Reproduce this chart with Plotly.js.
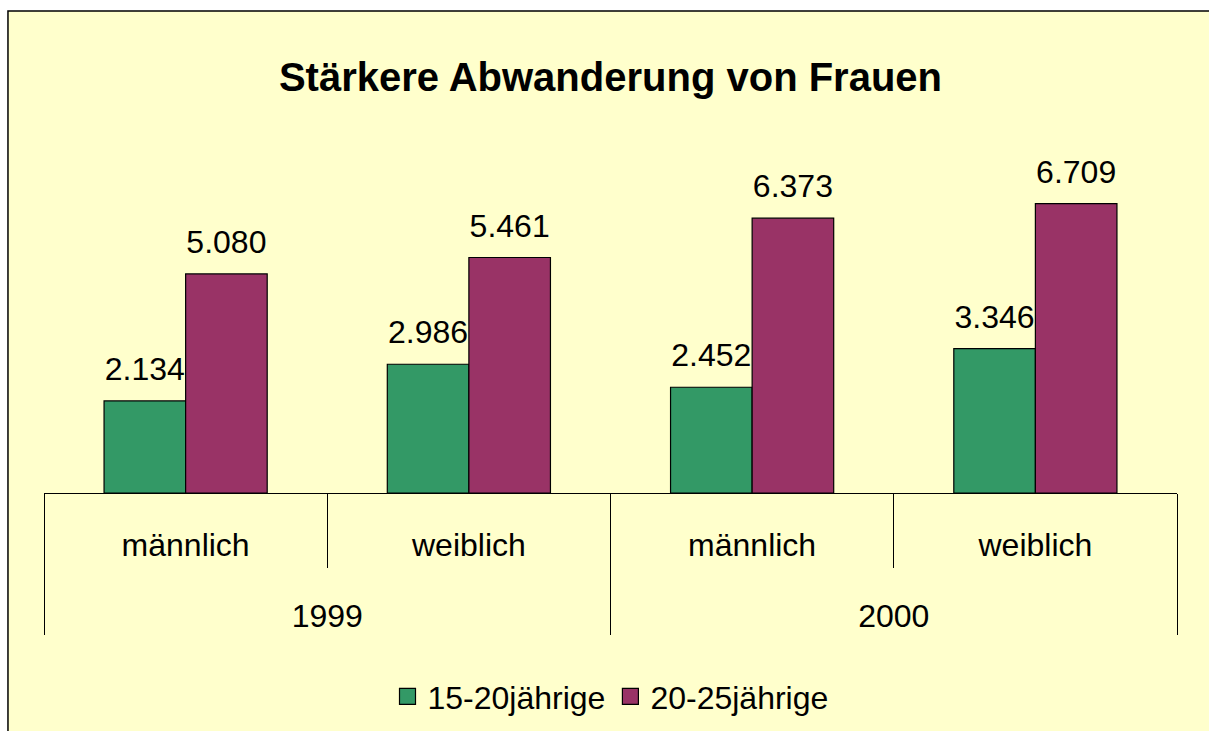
<!DOCTYPE html>
<html>
<head>
<meta charset="utf-8">
<script src="https://cdn.plot.ly/plotly-3.0.1.min.js"></script>
<style>html,body{margin:0;padding:0;background:#fff;}#chart{width:1209px;height:731px;}</style>
</head>
<body>
<div id="chart"></div>
<script>
const years = ['1999', '1999', '2000', '2000'];
const genders = ['männlich', 'weiblich', 'männlich', 'weiblich'];
const seriesNames = ['15-20jährige', '20-25jährige'];
const values1520 = [2134, 2986, 2452, 3346];
const values2025 = [5080, 5461, 6373, 6709];
const colors = ['#339966', '#993366'];

const FONT = 'Arial, "Liberation Sans", sans-serif';
const seriesValues = [values1520, values2025];

// invisible tall spacers around the inner labels give the second label row its distance
const SPACER = '<span style="font-size:83px">\u00A0</span>';
const innerLabels = genders.map(function (g) { return SPACER + g + SPACER; });
const xCats = [years, innerLabels];

const data = [];
// bars
seriesValues.forEach(function (vals, i) {
  data.push({
    type: 'bar',
    name: seriesNames[i],
    x: xCats,
    y: vals,
    offsetgroup: String(i),
    marker: {color: colors[i], line: {color: '#000000', width: 1.2}},
    showlegend: false,
    hoverinfo: 'skip'
  });
});
// value labels (grouped like the bars)
seriesValues.forEach(function (vals, i) {
  data.push({
    type: 'scatter',
    mode: 'markers+text',
    name: seriesNames[i],
    x: xCats,
    y: vals,
    offsetgroup: String(i),
    texttemplate: '%{y:,}',
    textposition: 'top center',
    textfont: {family: FONT, size: 32, color: '#000000'},
    marker: {size: 19, opacity: 0, color: colors[i]},
    cliponaxis: false,
    showlegend: false,
    hoverinfo: 'skip'
  });
});
// legend entries
seriesValues.forEach(function (vals, i) {
  data.push({
    type: 'scatter',
    mode: 'markers',
    name: seriesNames[i],
    x: [null],
    y: [null],
    xaxis: 'x2',
    yaxis: 'y2',
    marker: {symbol: 'square', size: 16, color: colors[i], line: {color: '#000000', width: 1.2}},
    showlegend: true,
    hoverinfo: 'skip'
  });
});

const layout = {
  width: 1209,
  height: 731,
  separators: ',.',
  paper_bgcolor: '#ffffff',
  plot_bgcolor: 'rgba(0,0,0,0)',
  margin: {l: 44, r: 32, t: 148, b: 238, pad: 0},
  font: {family: FONT, size: 32, color: '#000000'},
  title: {
    text: '<b>Stärkere Abwanderung von Frauen</b>',
    font: {family: FONT, size: 40, color: '#000000'},
    xref: 'paper', x: 0.5, xanchor: 'center',
    yref: 'container', y: 0.895, yanchor: 'middle'
  },
  barmode: 'group',
  bargap: 0.424,
  bargroupgap: 0,
  scattermode: 'group',
  scattergap: 0.424,
  xaxis: {
    type: 'multicategory',
    showline: true, linecolor: '#000000', linewidth: 1,
    ticks: 'outside', tickson: 'boundaries', ticklen: 74, tickcolor: '#000000', tickwidth: 1,
    ticklabelstandoff: 24,
    showdividers: true, dividercolor: '#000000', dividerwidth: 1,
    tickfont: {family: FONT, size: 32, color: '#000000'},
    showgrid: false, zeroline: false, fixedrange: true, automargin: false
  },
  yaxis: {
    visible: false, range: [0, 8000], showgrid: false, zeroline: false, fixedrange: true
  },
  xaxis2: {overlaying: 'x', anchor: 'y2', visible: false, fixedrange: true},
  yaxis2: {overlaying: 'y', anchor: 'x2', visible: false, fixedrange: true},
  showlegend: true,
  legend: {
    orientation: 'h', x: 0.5, xanchor: 'center', xref: 'paper',
    yref: 'container', y: 0.047, yanchor: 'middle',
    font: {family: FONT, size: 32, color: '#000000'},
    bgcolor: 'rgba(0,0,0,0)', traceorder: 'normal', itemsizing: 'trace'
  },
  shapes: [{
    type: 'rect', xref: 'paper', yref: 'paper', layer: 'below',
    x0: -0.0318, x1: 1.05, y0: -0.75, y1: 1.397,
    fillcolor: '#FFFFCC', line: {color: '#000000', width: 1.5}
  }]
};

Plotly.newPlot('chart', data, layout, {displayModeBar: false, staticPlot: true});
</script>
</body>
</html>
